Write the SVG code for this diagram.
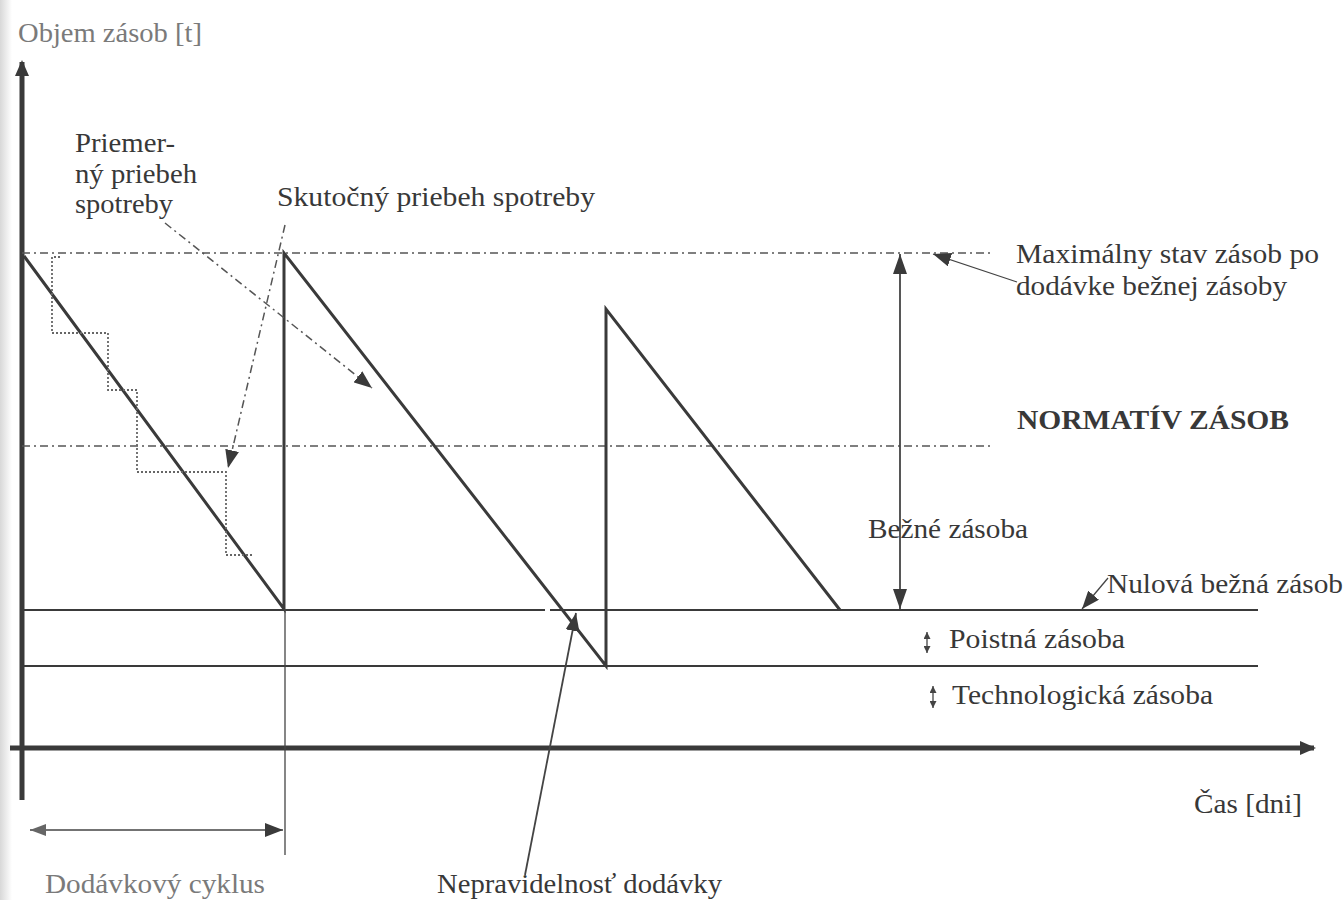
<svg xmlns="http://www.w3.org/2000/svg" width="1344" height="900" viewBox="0 0 1344 900">
  <style>
    .t { font-family: "Liberation Serif", "Times New Roman", serif; font-size: 28px; fill: #383838; }
    .lt { fill: #7a7a7a; }
    .b { font-weight: bold; }
    .ax { stroke: #3a3a3a; stroke-width: 5; fill: none; }
    .saw { stroke: #3a3a3a; stroke-width: 3; fill: none; stroke-linejoin: miter; }
    .lvl { stroke: #3a3a3a; stroke-width: 2.2; fill: none; }
    .dd { stroke: #555; stroke-width: 1.5; fill: none; stroke-dasharray: 8 4 2 4; }
    .dot { stroke: #666; stroke-width: 1.8; fill: none; stroke-dasharray: 2 2; }
    .thin { stroke: #444; stroke-width: 1.3; fill: none; }
    .ldr { stroke: #444; stroke-width: 1.8; fill: none; }
  </style>
  <defs>
    <linearGradient id="edge" x1="0" y1="0" x2="1" y2="0">
      <stop offset="0" stop-color="#d8d8d8"/>
      <stop offset="1" stop-color="#ffffff"/>
    </linearGradient>
    <marker id="arr" viewBox="0 0 18 14" refX="18" refY="7" markerWidth="18" markerHeight="14" markerUnits="userSpaceOnUse" orient="auto-start-reverse">
      <path d="M0,0 L18,7 L0,14 z" fill="#3a3a3a"/>
    </marker>
    <marker id="arrL" viewBox="0 0 20 14" refX="20" refY="7" markerWidth="20" markerHeight="14" markerUnits="userSpaceOnUse" orient="auto-start-reverse">
      <path d="M0,0 L20,7 L0,14 z" fill="#3a3a3a"/>
    </marker>
    <marker id="axh" viewBox="0 0 16 14" refX="14" refY="7" markerWidth="16" markerHeight="14" markerUnits="userSpaceOnUse" orient="auto">
      <path d="M0,0 L16,7 L0,14 z" fill="#3a3a3a"/>
    </marker>
    <marker id="sm" viewBox="0 0 7 7" refX="7" refY="3.5" markerWidth="7" markerHeight="7" markerUnits="userSpaceOnUse" orient="auto-start-reverse">
      <path d="M0,0 L7,3.5 L0,7 z" fill="#444"/>
    </marker>
    <marker id="gr" viewBox="0 0 16 12" refX="16" refY="6" markerWidth="16" markerHeight="12" markerUnits="userSpaceOnUse" orient="auto-start-reverse">
      <path d="M0,0 L16,6 L0,12 z" fill="#666"/>
    </marker>
  </defs>

  <rect x="0" y="0" width="12" height="900" fill="url(#edge)"/>

  <g id="axes">
    <line class="ax" x1="22" y1="800" x2="22" y2="62" marker-end="url(#axh)"/>
    <line class="ax" x1="10" y1="748" x2="1314" y2="748" marker-end="url(#axh)"/>
  </g>

  <g id="levels">
    <line class="dd" x1="22" y1="253" x2="990" y2="253"/>
    <line class="dd" x1="22" y1="446" x2="990" y2="446"/>
    <line class="lvl" x1="22" y1="610" x2="545" y2="610"/>
    <line class="lvl" x1="550" y1="610" x2="1258" y2="610"/>
    <line class="lvl" x1="22" y1="666" x2="1258" y2="666"/>
  </g>

  <g id="sawtooth">
    <path class="saw" d="M24,256 L284,609 V253 L606,666 V309 L840,610"/>
    <line class="thin" x1="285" y1="609" x2="285" y2="855"/>
  </g>

  <g id="average">
    <path class="dot" d="M60,257 H52 V333 H108 V390 H137 V472 H226 V555 H252"/>
  </g>

  <g id="connectors">
    <line class="dd" x1="165" y1="223" x2="372" y2="388" marker-end="url(#arr)"/>
    <line class="dd" x1="285" y1="225" x2="228" y2="468" marker-end="url(#arr)"/>
    <line class="thin" x1="1017" y1="282" x2="933" y2="254" marker-end="url(#arr)"/>
    <line class="ldr" x1="900" y1="254" x2="900" y2="609" marker-start="url(#arrL)" marker-end="url(#arrL)"/>
    <line class="thin" x1="1108" y1="578" x2="1082" y2="609" marker-end="url(#arr)"/>
    <line class="ldr" x1="525" y1="875" x2="576" y2="613" marker-end="url(#arr)"/>
    <line class="thin" x1="927" y1="632" x2="927" y2="653" marker-start="url(#sm)" marker-end="url(#sm)"/>
    <line class="thin" x1="933" y1="686" x2="933" y2="708" marker-start="url(#sm)" marker-end="url(#sm)"/>
    <line class="thin" x1="30" y1="830" x2="283" y2="830" stroke="#666" marker-start="url(#gr)" marker-end="url(#arr)"/>
  </g>

  <g id="labels">
    <text class="t lt" x="18" y="42" textLength="184" lengthAdjust="spacingAndGlyphs">Objem zásob [t]</text>
    <text class="t" x="75" y="152" textLength="100" lengthAdjust="spacingAndGlyphs">Priemer-</text>
    <text class="t" x="75" y="183" textLength="122" lengthAdjust="spacingAndGlyphs">ný priebeh</text>
    <text class="t" x="75" y="213" textLength="98" lengthAdjust="spacingAndGlyphs">spotreby</text>
    <text class="t" x="277" y="206" textLength="318" lengthAdjust="spacingAndGlyphs">Skutočný priebeh spotreby</text>
    <text class="t" x="1016" y="263" textLength="303" lengthAdjust="spacingAndGlyphs">Maximálny stav zásob po</text>
    <text class="t" x="1016" y="295" textLength="271" lengthAdjust="spacingAndGlyphs">dodávke bežnej zásoby</text>
    <text class="t b" x="1017" y="429" textLength="272" lengthAdjust="spacingAndGlyphs">NORMATÍV ZÁSOB</text>
    <text class="t" x="868" y="538" textLength="160" lengthAdjust="spacingAndGlyphs">Bežné zásoba</text>
    <text class="t" x="1107" y="593" textLength="236" lengthAdjust="spacingAndGlyphs">Nulová bežná zásob</text>
    <text class="t" x="949" y="648" textLength="176" lengthAdjust="spacingAndGlyphs">Poistná zásoba</text>
    <text class="t" x="952" y="704" textLength="261" lengthAdjust="spacingAndGlyphs">Technologická zásoba</text>
    <text class="t" x="1194" y="813" textLength="108" lengthAdjust="spacingAndGlyphs">Čas [dni]</text>
    <text class="t lt" x="45" y="893" textLength="220" lengthAdjust="spacingAndGlyphs">Dodávkový cyklus</text>
    <text class="t" x="437" y="893" textLength="285" lengthAdjust="spacingAndGlyphs">Nepravidelnosť dodávky</text>
  </g>
</svg>
